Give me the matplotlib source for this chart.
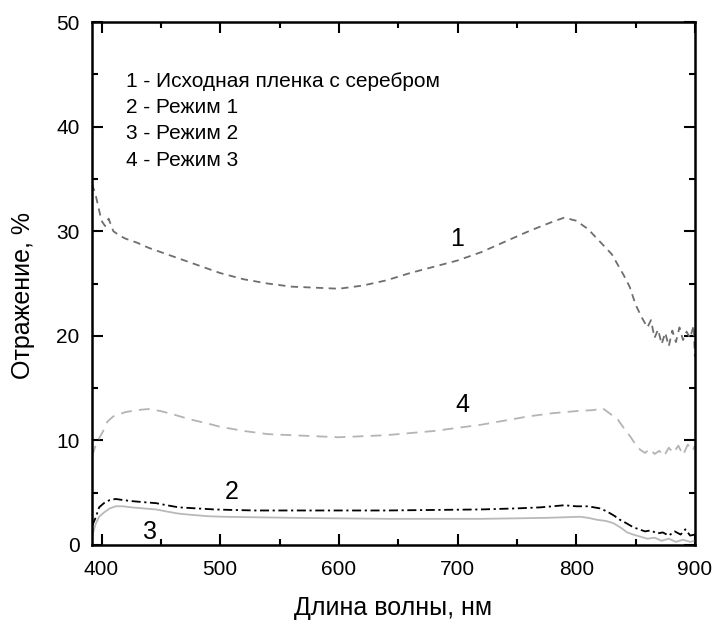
import matplotlib
matplotlib.use("Agg")
import matplotlib.pyplot as plt
from matplotlib.ticker import MultipleLocator

plt.rcParams["font.family"] = ["Liberation Sans", "DejaVu Sans"]

# Curve 1 - initial film with silver
x1 = [392, 395, 398, 400, 403, 406, 410, 415, 420, 430, 440, 450, 460, 470, 480, 490,
      500, 520, 540, 560, 580, 600, 620, 640, 660, 680, 700, 720, 740, 760, 780, 790,
      800, 810, 820, 830, 840, 845, 850, 855, 860, 863, 866, 869, 872, 875, 878, 881,
      884, 887, 890, 893, 896, 899, 900]
y1 = [34.5, 33.5, 32.0, 31.0, 30.5, 31.2, 30.0, 29.6, 29.3, 28.9, 28.4, 28.0, 27.6, 27.2,
      26.8, 26.4, 26.0, 25.4, 25.0, 24.7, 24.6, 24.5, 24.8, 25.3, 26.0, 26.6, 27.2, 28.0,
      29.0, 30.0, 30.9, 31.3, 31.0, 30.2, 29.0, 27.8, 25.8, 24.7, 23.0, 21.8, 20.8, 21.5,
      19.8, 20.6, 19.2, 20.3, 19.0, 20.5, 19.4, 20.8, 19.6, 20.4, 19.8, 21.0, 18.0]

# Curve 2 - mode 1
x2 = [392, 395, 398, 402, 407, 412, 418, 425, 435, 446, 455, 465, 480, 495, 510, 530,
      560, 600, 640, 680, 720, 750, 770, 790, 800, 810, 820, 826, 832, 837, 842, 848,
      853, 858, 863, 868, 873, 878, 883, 888, 892, 896, 900]
y2 = [1.8, 2.6, 3.6, 4.0, 4.3, 4.4, 4.3, 4.2, 4.1, 4.0, 3.8, 3.6, 3.5, 3.4, 3.35, 3.3,
      3.3, 3.3, 3.3, 3.35, 3.4, 3.5, 3.6, 3.8, 3.7, 3.7, 3.5, 3.2, 2.8, 2.4, 2.1, 1.7,
      1.5, 1.3, 1.4, 1.1, 1.2, 0.9, 1.3, 1.0, 1.5, 0.9, 1.0]

# Curve 3 - mode 2
x3 = [392, 395, 398, 402, 407, 412, 418, 425, 435, 446, 455, 465, 474, 490, 502, 530,
      560, 600, 643, 680, 719, 750, 776, 790, 803, 810, 818, 825, 831, 837, 843, 848,
      854, 860, 866, 872, 878, 884, 890, 896, 900]
y3 = [0.8, 2.0, 2.7, 3.1, 3.5, 3.7, 3.7, 3.6, 3.5, 3.4, 3.2, 3.0, 2.9, 2.75, 2.7, 2.65,
      2.6, 2.55, 2.5, 2.5, 2.5, 2.55, 2.6, 2.65, 2.7, 2.6, 2.4, 2.3, 2.1, 1.7, 1.2, 1.0,
      0.8, 0.6, 0.7, 0.4, 0.6, 0.3, 0.5, 0.3, 0.4]

# Curve 4 - mode 3
x4 = [392, 395, 398, 401, 405, 410, 420, 430, 440, 450, 460, 475, 490, 500, 520, 540,
      560, 580, 600, 620, 640, 660, 680, 700, 720, 740, 760, 780, 800, 815, 822, 828,
      835, 840, 846, 850, 854, 858, 862, 866, 870, 874, 878, 882, 886, 890, 894, 898, 900]
y4 = [8.5, 9.5, 10.2, 10.8, 11.8, 12.3, 12.7, 12.9, 13.0, 12.8, 12.5, 12.0, 11.6, 11.3,
      10.9, 10.6, 10.5, 10.4, 10.3, 10.4, 10.5, 10.7, 10.9, 11.2, 11.5, 11.9, 12.3, 12.6,
      12.8, 12.9, 13.1, 12.6, 12.0, 11.2, 10.3, 9.6, 9.1, 8.8, 9.2, 8.7, 9.0, 8.5, 9.3,
      8.8, 9.5, 8.6, 9.6, 9.0, 9.5]

legend_lines = ["1 - Исходная пленка с серебром", "2 - Режим 1", "3 - Режим 2", "4 - Режим 3"]

fig = plt.figure(figsize=(7.16, 6.22), dpi=100)
ax = fig.add_axes([0.1285, 0.1238, 0.842, 0.8408])

ax.plot(x1, y1, color="#6e6e6e", linestyle=(0, (4, 3)), linewidth=1.3)
ax.plot(x4, y4, color="#b4b4b4", linestyle=(0, (6, 4)), linewidth=1.3)
ax.plot(x2, y2, color="black", linestyle=(0, (5, 2, 1.2, 2)), linewidth=1.3)
ax.plot(x3, y3, color="#b9b9b9", linestyle="-", linewidth=1.3)

ax.text(700, 29.3, "1", fontsize=18, ha="center", va="center")
ax.text(704, 13.4, "4", fontsize=18, ha="center", va="center")
ax.text(510, 5.1, "2", fontsize=18, ha="center", va="center")
ax.text(441, 1.2, "3", fontsize=18, ha="center", va="center")

for i, line in enumerate(legend_lines):
    ax.text(421, 44.3 - 2.5 * i, line, fontsize=15, ha="left", va="center")

ax.set_xlim(392, 900)
ax.set_ylim(0, 50)
ax.xaxis.set_major_locator(MultipleLocator(100))
ax.xaxis.set_minor_locator(MultipleLocator(50))
ax.yaxis.set_major_locator(MultipleLocator(10))
ax.yaxis.set_minor_locator(MultipleLocator(5))
ax.tick_params(which="both", direction="in", top=True, right=True, width=1.5, labelsize=15)
ax.tick_params(which="major", length=8, pad=9)
ax.tick_params(axis="x", which="major", pad=11)
ax.tick_params(which="minor", length=4)
for s in ax.spines.values():
    s.set_linewidth(1.8)

ax.set_xlabel("Длина волны, нм", fontsize=18)
ax.set_ylabel("Отражение, %", fontsize=18)
ax.xaxis.set_label_coords(0.5, -0.098)
ax.yaxis.set_label_coords(-0.095, 0.478)

fig.savefig("out.png", dpi=100)
